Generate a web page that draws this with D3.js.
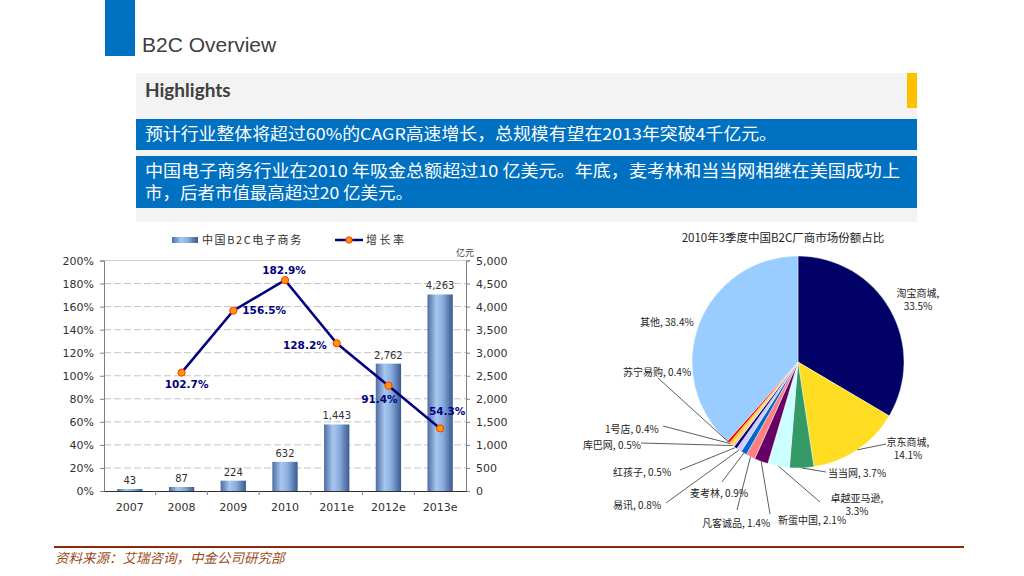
<!DOCTYPE html>
<html>
<head>
<meta charset="utf-8">
<script src="https://cdn.jsdelivr.net/npm/d3@7"></script>
<style>
    body { margin: 0; background: #fff; }
    text { font-family: "Noto Sans CJK SC", sans-serif; }
</style>
</head>
<body>
<svg id="slide" width="1024" height="576"></svg>
<script>
// chart data
const years = ["2007", "2008", "2009", "2010", "2011e", "2012e", "2013e"];
const b2cSales = [43, 87, 224, 632, 1443, 2762, 4263];
const growthRate = [null, 102.7, 156.5, 182.9, 128.2, 91.4, 54.3];
const percentTicks = [0, 20, 40, 60, 80, 100, 120, 140, 160, 180, 200];
const salesTicks = [0, 500, 1000, 1500, 2000, 2500, 3000, 3500, 4000, 4500, 5000];

const shareNames = ["淘宝商城", "京东商城", "当当网", "卓越亚马逊", "新蛋中国", "凡客诚品", "麦考林",
    "易讯", "红孩子", "库巴网", "1号店", "苏宁易购", "其他"];
const shareValues = [33.5, 14.1, 3.7, 3.3, 2.1, 1.4, 0.9, 0.8, 0.5, 0.5, 0.4, 0.4, 38.4];

// styling
const shareColors = ["#000066", "#FFDD22", "#339966", "#CCFFFF", "#660066", "#FF8080", "#0066CC",
    "#CCCCFF", "#000080", "#FFCC99", "#FFCC00", "#FF0000", "#99CCFF"];

const svg = d3.select("#slide");
const defs = svg.append("defs");

// ---------- header ----------
svg.append("rect").attr("x", 105).attr("y", 0).attr("width", 30).attr("height", 56).attr("fill", "#0070C0");
svg.append("text").attr("x", 142).attr("y", 52)
    .style("font-family", "'Liberation Sans', Arial, sans-serif")
    .style("font-size", "21px").attr("fill", "#404040")
    .text("B2C Overview");

svg.append("rect").attr("x", 136).attr("y", 73).attr("width", 781).attr("height", 149).attr("fill", "#F3F3F3");
svg.append("rect").attr("x", 907).attr("y", 73).attr("width", 10).attr("height", 35).attr("fill", "#FFC000");
svg.append("text").attr("x", 145).attr("y", 97)
    .style("font-family", "Lato, sans-serif").style("font-weight", "bold")
    .style("font-size", "19px").attr("fill", "#404040")
    .text("Highlights");

svg.append("rect").attr("x", 136).attr("y", 119).attr("width", 781).attr("height", 31).attr("fill", "#0070C0");
svg.append("rect").attr("x", 136).attr("y", 156).attr("width", 781).attr("height", 52).attr("fill", "#0070C0");

const highlightLines = [
    { text: "预计行业整体将超过60%的CAGR高速增长，总规模有望在2013年突破4千亿元。", y: 140, w: 632 },
    { text: "中国电子商务行业在2010 年吸金总额超过10 亿美元。年底，麦考林和当当网相继在美国成功上", y: 177, w: 755 },
    { text: "市，后者市值最高超过20 亿美元。", y: 199, w: 268 }
];
svg.selectAll(".hl")
    .data(highlightLines)
    .enter()
    .append("text")
    .attr("class", "hl")
    .attr("x", 145)
    .attr("y", d => d.y)
    .attr("textLength", d => d.w)
    .attr("lengthAdjust", "spacingAndGlyphs")
    .style("font-size", "16.5px")
    .attr("fill", "#fff")
    .text(d => d.text);

// ---------- bar + line chart ----------
const plot = { left: 104, right: 466, top: 260.5, bottom: 491 };

const x = d3.scaleBand().domain(years).range([plot.left, plot.right]).padding(0);
const yPct = d3.scaleLinear().domain([0, 200]).range([plot.bottom, plot.top]);
const ySales = d3.scaleLinear().domain([0, 5000]).range([plot.bottom, plot.top]);

const grad = defs.append("linearGradient").attr("id", "barGrad")
    .attr("x1", "0%").attr("x2", "100%").attr("y1", "0%").attr("y2", "0%");
grad.append("stop").attr("offset", "0%").attr("stop-color", "#4d6da3");
grad.append("stop").attr("offset", "35%").attr("stop-color", "#a8c7ef");
grad.append("stop").attr("offset", "60%").attr("stop-color", "#8aaedf");
grad.append("stop").attr("offset", "100%").attr("stop-color", "#3c5a90");

const chart = svg.append("g");

// gridlines
chart.selectAll(".grid")
    .data(percentTicks.filter(d => d > 0))
    .enter()
    .append("line")
    .attr("x1", plot.left).attr("x2", plot.right)
    .attr("y1", d => yPct(d)).attr("y2", d => yPct(d))
    .attr("stroke", d => d === 200 ? "#d0d0d0" : "#c4c4c4")
    .attr("stroke-dasharray", d => d === 200 ? null : "7,3");

// left axis
const leftAxis = chart.append("g")
    .attr("transform", `translate(${plot.left},0)`)
    .call(d3.axisLeft(yPct).tickValues(percentTicks).tickFormat(d => d + "%").tickSize(4).tickPadding(6));

// right axis
const rightAxis = chart.append("g")
    .attr("transform", `translate(${plot.right},0)`)
    .call(d3.axisRight(ySales).tickValues(salesTicks).tickFormat(d3.format(",")).tickSize(4).tickPadding(6));

// bottom axis, ticks between categories
const bottomAxis = chart.append("g")
    .attr("transform", `translate(0,${plot.bottom})`)
    .call(d3.axisBottom(x).tickSize(0).tickPadding(12));
bottomAxis.selectAll(".sep")
    .data(years.slice(1))
    .enter()
    .append("line")
    .attr("x1", d => x(d)).attr("x2", d => x(d))
    .attr("y1", 0).attr("y2", 4)
    .attr("stroke", "#404040");

[leftAxis, rightAxis, bottomAxis].forEach(a => {
    a.selectAll("text")
        .style("font-family", "'DejaVu Sans', Verdana, sans-serif")
        .style("font-size", "11px")
        .attr("fill", "#303030");
    a.selectAll("path, line").attr("stroke", "#808080");
});
bottomAxis.select(".domain").attr("stroke", "#303030");

chart.append("text")
    .attr("x", 465).attr("y", 256)
    .attr("text-anchor", "middle")
    .style("font-size", "9px")
    .attr("fill", "#404040")
    .text("亿元");

// bars
const barW = x.bandwidth() * 0.49;
chart.selectAll(".bar")
    .data(b2cSales)
    .enter()
    .append("rect")
    .attr("class", "bar")
    .attr("x", (d, i) => x(years[i]) + (x.bandwidth() - barW) / 2)
    .attr("y", d => ySales(d))
    .attr("width", barW)
    .attr("height", d => ySales(0) - ySales(d))
    .attr("fill", "url(#barGrad)");

chart.selectAll(".barLabel")
    .data(b2cSales)
    .enter()
    .append("text")
    .attr("x", (d, i) => x(years[i]) + x.bandwidth() / 2)
    .attr("y", d => ySales(d) - 5)
    .attr("text-anchor", "middle")
    .style("font-family", "'DejaVu Sans', Verdana, sans-serif")
    .style("font-size", "10px")
    .attr("fill", "#303030")
    .text(d => d3.format(",")(d));

// growth line
const growthPoints = growthRate
    .map((v, i) => ({ year: years[i], v: v, i: i }))
    .filter(d => d.v !== null);

const line = d3.line()
    .x(d => x(d.year) + x.bandwidth() / 2)
    .y(d => yPct(d.v));

chart.append("path")
    .datum(growthPoints)
    .attr("d", line)
    .attr("fill", "none")
    .attr("stroke", "#000080")
    .attr("stroke-width", 2.5);

chart.selectAll(".dot")
    .data(growthPoints)
    .enter()
    .append("circle")
    .attr("cx", d => x(d.year) + x.bandwidth() / 2)
    .attr("cy", d => yPct(d.v))
    .attr("r", 3.6)
    .attr("fill", "#FF9900")
    .attr("stroke", "#FF3300")
    .attr("stroke-width", 1);

// label offsets [dx, dy, anchor]
const growthLabelOffset = [null, [5, 15, "middle"], [9, 3, "start"], [-1, -6, "middle"],
    [-10, 6, "end"], [-9, 17, "middle"], [7, -13, "middle"]];

chart.selectAll(".growthLabel")
    .data(growthPoints)
    .enter()
    .append("text")
    .attr("x", d => x(d.year) + x.bandwidth() / 2 + growthLabelOffset[d.i][0])
    .attr("y", d => yPct(d.v) + growthLabelOffset[d.i][1])
    .attr("text-anchor", d => growthLabelOffset[d.i][2])
    .style("font-family", "'DejaVu Sans', Verdana, sans-serif")
    .style("font-size", "10.5px")
    .style("font-weight", "bold")
    .attr("fill", "#000080")
    .text(d => d.v.toFixed(1) + "%");

// legend
const legend = chart.append("g");
legend.append("rect").attr("x", 172).attr("y", 237).attr("width", 26).attr("height", 6).attr("fill", "url(#barGrad)");
legend.append("text").attr("x", 202).attr("y", 244)
    .style("font-size", "11px").style("letter-spacing", "1.6px").attr("fill", "#303030")
    .text("中国B2C电子商务");
legend.append("line").attr("x1", 335).attr("x2", 363).attr("y1", 240).attr("y2", 240)
    .attr("stroke", "#000080").attr("stroke-width", 2.5);
legend.append("circle").attr("cx", 349).attr("cy", 240).attr("r", 3.2)
    .attr("fill", "#FF9900").attr("stroke", "#FF3300");
legend.append("text").attr("x", 366).attr("y", 244)
    .style("font-size", "11px").style("letter-spacing", "2.5px").attr("fill", "#303030")
    .text("增长率");

// ---------- pie chart ----------
const cx = 798, cy = 362, radius = 106;
const pieG = svg.append("g").attr("transform", `translate(${cx},${cy})`);

svg.append("text")
    .attr("x", 783).attr("y", 242)
    .attr("text-anchor", "middle")
    .style("font-size", "11.5px")
    .attr("fill", "#222")
    .text("2010年3季度中国B2C厂商市场份额占比");

const pie = d3.pie().sort(null).value(d => d);
const arcs = pie(shareValues);
const arc = d3.arc().innerRadius(0).outerRadius(radius);
const edgeArc = d3.arc().innerRadius(radius).outerRadius(radius);

pieG.selectAll(".slice")
    .data(arcs)
    .enter()
    .append("path")
    .attr("d", arc)
    .attr("fill", (d, i) => shareColors[i])
    .attr("stroke", "#fff")
    .attr("stroke-width", 0.4);

// label layout relative to pie center: [dx, dy, anchor, twoLines, leaderX, leaderY]
const pieLabelLayout = [
    [120, -69, "middle", true, null, null],
    [110, 80, "middle", true, 88, 82],
    [30, 111, "start", false, 28, 110],
    [59, 136, "middle", true, 22, 140],
    [-20, 158, "start", false, -28, 152],
    [-96, 161, "start", false, -61, 148],
    [-108, 131, "start", false, -76, 120],
    [-185, 143, "start", false, -132, 141],
    [-185, 110, "start", false, -118, 108],
    [-157, 83, "end", false, -157, 81],
    [-193, 67, "start", false, -135, 64],
    [-175, 10, "start", false, -140, 16],
    [-158, -40, "start", false, null, null]
];

pieG.selectAll(".leader")
    .data(arcs.filter((d, i) => pieLabelLayout[i][4] !== null))
    .enter()
    .append("line")
    .attr("x1", d => edgeArc.centroid(d)[0])
    .attr("y1", d => edgeArc.centroid(d)[1])
    .attr("x2", d => pieLabelLayout[d.index][4])
    .attr("y2", d => pieLabelLayout[d.index][5])
    .attr("stroke", "#333")
    .attr("stroke-width", 0.8);

const pieLabels = pieG.selectAll(".pieLabel")
    .data(arcs)
    .enter()
    .append("text")
    .attr("x", d => pieLabelLayout[d.index][0])
    .attr("y", d => pieLabelLayout[d.index][1] + 4)
    .attr("text-anchor", d => pieLabelLayout[d.index][2])
    .style("font-size", "10px")
    .attr("fill", "#222");

pieLabels.each(function (d) {
    const t = d3.select(this);
    const name = shareNames[d.index];
    const val = d.data.toFixed(1) + "%";
    if (pieLabelLayout[d.index][3]) {
        t.append("tspan").text(name + ",");
        t.append("tspan").attr("x", pieLabelLayout[d.index][0]).attr("dy", 13).text(val);
    } else {
        t.text(name + ", " + val);
    }
});

// ---------- footer ----------
svg.append("line").attr("x1", 54).attr("x2", 964).attr("y1", 547).attr("y2", 547)
    .attr("stroke", "#8B2A0A").attr("stroke-width", 1.8);
svg.append("text").attr("x", 55).attr("y", 563)
    .style("font-size", "13.5px").style("font-style", "italic")
    .attr("fill", "#9C4A1A")
    .text("资料来源：艾瑞咨询，中金公司研究部");
</script>
</body>
</html>
